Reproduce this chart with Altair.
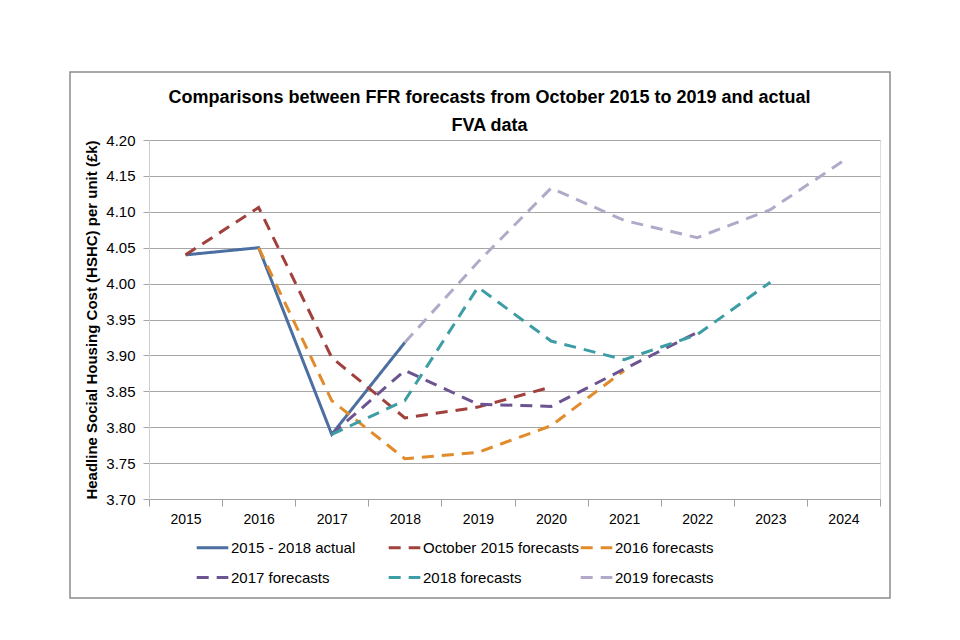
import altair as alt
import pandas as pd

years = ["2015", "2016", "2017", "2018", "2019", "2020", "2021", "2022", "2023", "2024"]
series_names = ["2015 - 2018 actual", "October 2015 forecasts", "2016 forecasts",
                "2017 forecasts", "2018 forecasts", "2019 forecasts"]

actual   = [4.040, 4.050, 3.790, 3.918, None, None, None, None, None, None]
oct2015  = [4.040, 4.106, 3.897, 3.813, 3.828, 3.856, None, None, None, None]
f2016    = [None, 4.050, 3.837, 3.756, 3.765, 3.802, 3.879, None, None, None]
f2017    = [None, None, 3.790, 3.879, 3.832, 3.829, 3.881, 3.932, None, None]
f2018    = [None, None, 3.790, 3.837, 3.995, 3.920, 3.894, 3.929, 4.002, None]
f2019    = [None, None, None, 3.918, 4.030, 4.133, 4.088, 4.064, 4.103, 4.171]

colors = ["#4A6FA0", "#A0413D", "#E28B2B", "#6B5490", "#3C9DA4", "#B2A9C9"]
dashes = [[1, 0], [12, 8], [12, 8], [12, 8], [12, 8], [12, 8]]

rows = []
for name, vals in zip(series_names, [actual, oct2015, f2016, f2017, f2018, f2019]):
    for y, v in zip(years, vals):
        if v is not None:
            rows.append({"year": y, "value": v, "series": name,
                         "order": series_names.index(name)})
df = pd.DataFrame(rows)

FONT = "Liberation Sans"

frame = alt.Chart(pd.DataFrame({"a": [0]})).mark_rect(
    fillOpacity=0, stroke="#8c8c8c", strokeWidth=1.5
).encode(x=alt.value(-79), x2=alt.value(741), y=alt.value(-68), y2=alt.value(458))

legend_kw = dict(title=None, orient="none", legendX=46, legendY=390, direction="horizontal",
                 columns=3, gridAlign="all", columnPadding=-5, rowPadding=4,
                 symbolType="stroke", symbolSize=1000, symbolStrokeWidth=3,
                 labelFontSize=15, labelFont=FONT, labelColor="black", labelOffset=1)

lines = alt.Chart(df).mark_line(strokeWidth=3).encode(
    x=alt.X("year:O", sort=years, scale=alt.Scale(type="band", domain=years, paddingInner=0, paddingOuter=0),
            axis=alt.Axis(title=None, labelAngle=0, tickBand="extent", tickSize=7,
                          labelPadding=6, domainColor="#a0a0a0", tickColor="#a0a0a0",
                          labelFontSize=14, labelFont=FONT, labelColor="black", grid=False)),
    y=alt.Y("value:Q", scale=alt.Scale(domain=[3.70, 4.20], nice=False, zero=False),
            axis=alt.Axis(title="Headline Social Housing Cost (HSHC) per unit (£k)",
                          values=[3.70, 3.75, 3.80, 3.85, 3.90, 3.95, 4.00, 4.05, 4.10, 4.15, 4.20],
                          format=".2f", tickSize=6, tickColor="#a6a6a6", domainColor="#cfcfcf",
                          gridColor="#a6a6a6", labelFontSize=15, labelFont=FONT, labelColor="black",
                          labelPadding=8, titleFont=FONT, titleFontSize=15, titleFontWeight="bold",
                          titleColor="black", titlePadding=6)),
    color=alt.Color("series:N", sort=series_names,
                    scale=alt.Scale(domain=series_names, range=colors),
                    legend=alt.Legend(**legend_kw)),
    strokeDash=alt.StrokeDash("series:N", sort=series_names,
                              scale=alt.Scale(domain=series_names, range=dashes),
                              legend=alt.Legend(**legend_kw)),
    order=alt.Order("order:Q"),
    detail="series:N",
)

chart = alt.layer(frame, lines).properties(
    width=731, height=359,
    autosize=alt.AutoSizeParams(type="none"),
    padding={"left": 141, "top": 132, "right": 64, "bottom": 120},
    title=alt.TitleParams(
        text=["Comparisons between FFR forecasts from October 2015 to 2019 and actual", "FVA data"],
        fontSize=18, fontWeight="bold", font=FONT, color="black", lineHeight=28,
        anchor="middle", dx=-25, offset=-64),
).configure_view(stroke=None).configure(background="white")

chart.save("out.html", embed_options={"renderer": "svg", "actions": False})
